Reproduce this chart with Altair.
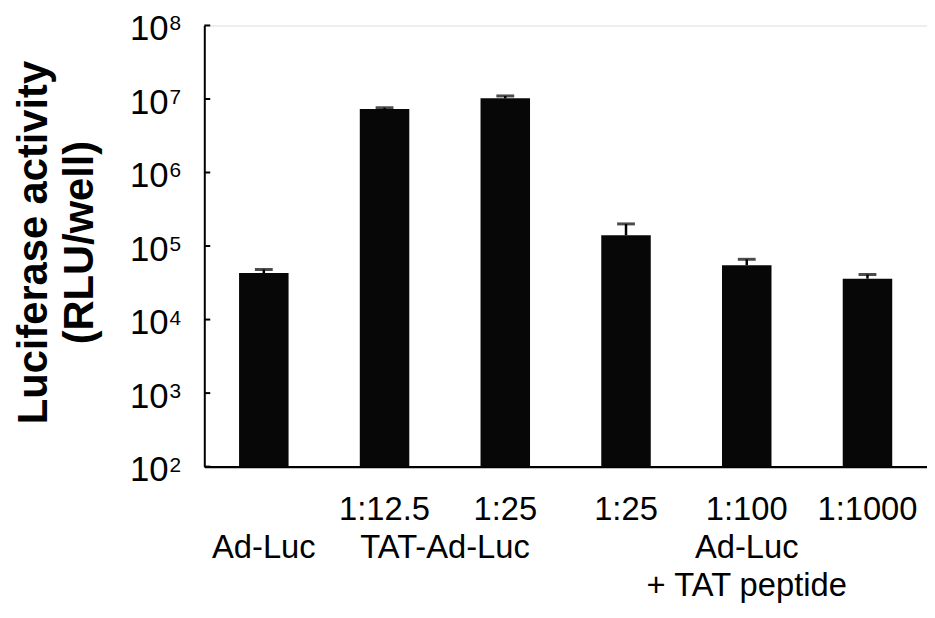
import altair as alt
import pandas as pd

# ---- data ----
categories = ["Ad-Luc", "TAT-Ad-Luc 1:12.5", "TAT-Ad-Luc 1:25",
              "Ad-Luc+TAT 1:25", "Ad-Luc+TAT 1:100", "Ad-Luc+TAT 1:1000"]
dilutions = ["", "1:12.5", "1:25", "1:25", "1:100", "1:1000"]
activity = [4.3e4, 7.3e6, 1.02e7, 1.4e5, 5.5e4, 3.6e4]
upper = [4.8e4, 7.6e6, 1.1e7, 2.0e5, 6.6e4, 4.1e4]
base_value = 1e2

tick_values = [1e2, 1e3, 1e4, 1e5, 1e6, 1e7, 1e8]
tick_exponents = ["2", "3", "4", "5", "6", "7", "8"]

line2_labels = ["Ad-Luc", "Ad-Luc"]
line2_anchor = [categories[0], categories[4]]
line3_labels = ["+ TAT peptide"]
line3_anchor = [categories[4]]
pair_labels = ["TAT-Ad-Luc"]
pair_anchor = [categories[1]]

y_title = ["Luciferase activity", "(RLU/well)"]

FONT = "Liberation Sans"
XFS = 33

bars_df = pd.DataFrame({"cat": categories, "dil": dilutions, "value": activity,
                        "upper": upper, "base": [base_value] * len(categories)})
ticks_df = pd.DataFrame({"tick": tick_values, "exp": tick_exponents,
                         "ten": ["10"] * len(tick_values)})
line2_df = pd.DataFrame({"cat": line2_anchor, "label": line2_labels})
line3_df = pd.DataFrame({"cat": line3_anchor, "label": line3_labels})
pair_df = pd.DataFrame({"cat": pair_anchor, "label": pair_labels})
title_df = pd.DataFrame({"line": y_title})

x_scale = alt.Scale(domain=categories, paddingInner=0.59, paddingOuter=0.288)
y_scale = alt.Scale(type="log", domain=[1e2, 1e8], nice=False)


def xcat():
    return alt.X("cat:N", scale=x_scale, sort=categories)


bars = alt.Chart(bars_df).mark_bar(color="#070707").encode(
    x=alt.X("cat:N", scale=x_scale, sort=categories,
            axis=alt.Axis(labels=False, ticks=False, title=None,
                          domainColor="black", domainWidth=2.5)),
    y=alt.Y("value:Q", scale=y_scale,
            axis=alt.Axis(labels=False, ticks=False, title=None, grid=False,
                          domainColor="black", domainWidth=2)),
    y2="base:Q",
)

stems = alt.Chart(bars_df).mark_rule(color="black", strokeWidth=2.5).encode(
    x=xcat(),
    y=alt.Y("value:Q", scale=y_scale),
    y2="upper:Q",
)

caps = alt.Chart(bars_df).mark_tick(color="black", thickness=3, size=18).encode(
    x=xcat(),
    y=alt.Y("upper:Q", scale=y_scale),
)

ytick_marks = alt.Chart(ticks_df).mark_rule(color="black", strokeWidth=2).encode(
    x=alt.value(0), x2=alt.value(6),
    y=alt.Y("tick:Q", scale=y_scale),
)

ytick_ten = alt.Chart(ticks_df).mark_text(
    font=FONT, fontSize=35, align="right", baseline="alphabetic",
    color="black", dy=15
).encode(
    x=alt.value(-36),
    y=alt.Y("tick:Q", scale=y_scale),
    text="ten:N",
)

ytick_exp = alt.Chart(ticks_df).mark_text(
    font=FONT, fontSize=21, align="left", baseline="alphabetic",
    color="black", dy=5
).encode(
    x=alt.value(-35),
    y=alt.Y("tick:Q", scale=y_scale),
    text="exp:N",
)

dil_text = alt.Chart(bars_df).mark_text(
    font=FONT, fontSize=XFS, align="center", baseline="alphabetic", color="black"
).encode(x=xcat(), y=alt.value(499), text="dil:N")

line2_text = alt.Chart(line2_df).mark_text(
    font=FONT, fontSize=XFS, align="center", baseline="alphabetic", color="black"
).encode(x=xcat(), y=alt.value(537), text="label:N")

line3_text = alt.Chart(line3_df).mark_text(
    font=FONT, fontSize=XFS, align="center", baseline="alphabetic", color="black"
).encode(x=xcat(), y=alt.value(576), text="label:N")

pair_text = alt.Chart(pair_df).mark_text(
    font=FONT, fontSize=XFS, align="center", baseline="alphabetic",
    color="black", dx=61
).encode(x=xcat(), y=alt.value(537), text="label:N")

title1 = alt.Chart(title_df.iloc[[0]]).mark_text(
    font=FONT, fontSize=42, fontWeight="bold", angle=270, align="center",
    baseline="alphabetic", color="black"
).encode(x=alt.value(-159), y=alt.value(219), text="line:N")
title2 = alt.Chart(title_df.iloc[[1]]).mark_text(
    font=FONT, fontSize=42, fontWeight="bold", angle=270, align="center",
    baseline="alphabetic", color="black"
).encode(x=alt.value(-112), y=alt.value(219), text="line:N")

chart = alt.layer(
    bars, stems, caps, ytick_marks, ytick_ten, ytick_exp,
    dil_text, line2_text, line3_text, pair_text, title1, title2
).properties(
    width=729, height=445,
    autosize=alt.AutoSizeParams(type="none"),
    padding={"left": 198, "top": 15, "right": 0, "bottom": 140},
).configure_view(stroke=None).configure(background="white")

chart.save("out.html", embed_options={"renderer": "svg", "actions": False})
